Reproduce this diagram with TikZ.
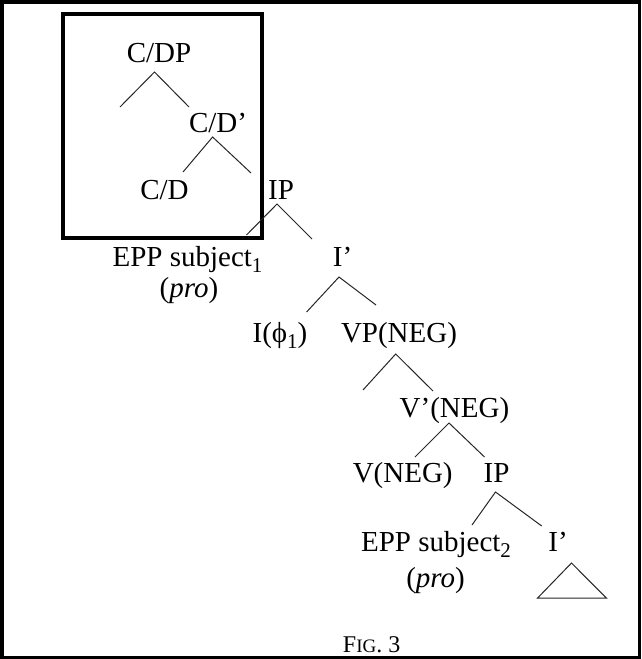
\documentclass[tikz,border=0pt]{standalone}
\usepackage{fontspec}
\setmainfont{Liberation Serif}
% lowered subscript for the indices
\newcommand{\idx}[1]{\raisebox{-6pt}{\fontsize{21}{24}\selectfont #1}}
\begin{document}
\begin{tikzpicture}[x=1pt,y=-1pt,
  lbl/.style={anchor=base,inner sep=0pt,font=\fontsize{29}{34}\selectfont},
  branch/.style={line width=1pt,draw=black!85},
  frame/.style={line width=3.5pt,draw=black}]
\useasboundingbox (0,0) rectangle (641,659);
% outer frame and highlighted box
\draw[frame] (1.75,1.75) rectangle (639.25,657.25);
\draw[line width=4pt] (62.5,14) rectangle (262,238);

% labels
\node[lbl] (cdp)   at (159,62)  {C/DP};
\node[lbl] (cdbar) at (218,132) {C/D’};
\node[lbl] (cd)    at (164.5,199) {C/D};
\node[lbl] (ip1)   at (281,199) {IP};
\node[lbl] (epp1)  at (187.5,266) {EPP subject\idx{1}};
\node[lbl] (ibar1) at (342.5,266) {I’};
\node[lbl] (pro1)  at (189,297) {(\textit{pro})};
\node[lbl] (iphi)  at (280,342) {I(ϕ\idx{1})};
\node[lbl] (vp)    at (399,342) {VP(NEG)};
\node[lbl] (vbar)  at (454.5,417) {V’(NEG)};
\node[lbl] (vneg)  at (402.7,482) {V(NEG)};
\node[lbl] (ip2)   at (496.6,482) {IP};
\node[lbl] (epp2)  at (436,551) {EPP subject\idx{2}};
\node[lbl] (ibar2) at (558,551) {I’};
\node[lbl] (pro2)  at (435.6,587) {(\textit{pro})};
\node[anchor=base,inner sep=0pt,font=\fontsize{24}{28}\selectfont] (fig) at (371.6,652) {F{\fontsize{19}{22}\selectfont IG}. 3};

% branch points
\coordinate (a1) at (154.5,72);  \coordinate (l1) at (120,107);   \coordinate (r1) at (189,107);
\coordinate (a2) at (212.6,137); \coordinate (l2) at (183,172);   \coordinate (r2) at (251,173);
\coordinate (a3) at (277,204);   \coordinate (l3) at (246.5,235); \coordinate (r3) at (312,239);
\coordinate (a4) at (339,277);   \coordinate (l4) at (306.6,312); \coordinate (r4) at (376,305);
\coordinate (a5) at (395.7,354); \coordinate (l5) at (363,390);   \coordinate (r5) at (433,391);
\coordinate (a6) at (449,423);   \coordinate (l6) at (415,457);   \coordinate (r6) at (484.5,457);
\coordinate (a7) at (495.5,492); \coordinate (l7) at (472,525);   \coordinate (r7) at (541.7,526);
\coordinate (t0) at (571.5,563); \coordinate (tl) at (537.6,598); \coordinate (tr) at (606.3,598);

% branches
\draw[branch] (l1) -- (a1) -- (r1);
\draw[branch] (l2) -- (a2) -- (r2);
\draw[branch] (l3) -- (a3) -- (r3);
\draw[branch] (l4) -- (a4) -- (r4);
\draw[branch] (l5) -- (a5) -- (r5);
\draw[branch] (l6) -- (a6) -- (r6);
\draw[branch] (l7) -- (a7) -- (r7);
\draw[branch] (t0) -- (tl) -- (tr) -- cycle;
\end{tikzpicture}
\end{document}
